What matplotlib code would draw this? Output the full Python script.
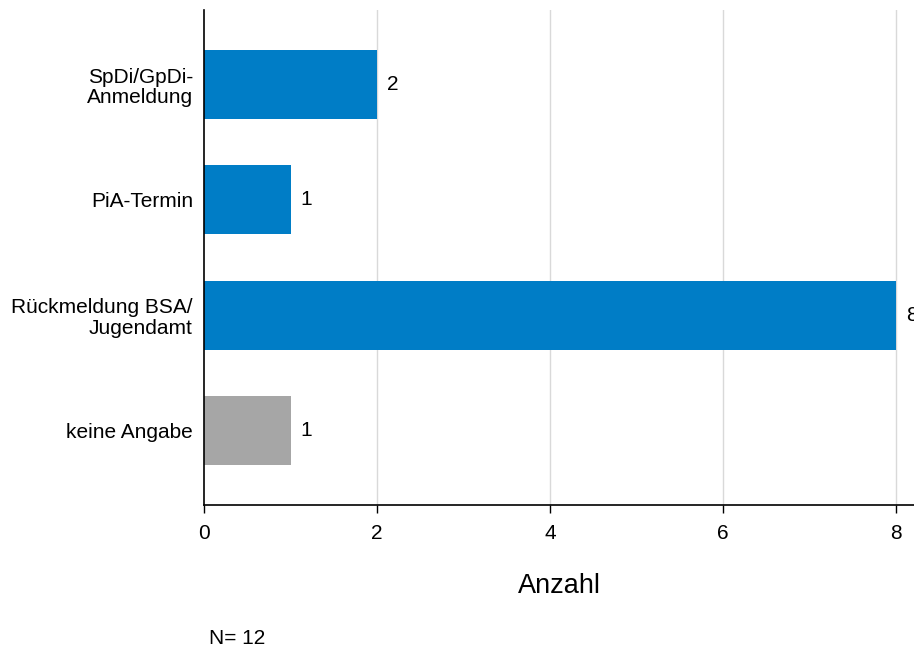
import matplotlib
matplotlib.use("Agg")
import matplotlib.pyplot as plt

plt.rcParams["font.family"] = ["Liberation Sans", "DejaVu Sans"]

categories = ["SpDi/GpDi-\nAnmeldung", "PiA-Termin", "Rückmeldung BSA/\nJugendamt", "keine Angabe"]
counts = [2, 1, 8, 1]
colors = ["#007DC6", "#007DC6", "#007DC6", "#A6A6A6"]
xticks = [0, 2, 4, 6, 8]
n_total = 12

fig = plt.figure(figsize=(9.14, 6.5), dpi=100)
ax = fig.add_axes([204 / 914, 1 - 505 / 650, 1 - 204 / 914, 495 / 650])

pos = list(range(len(categories)))
bars = ax.barh(pos, counts, height=0.6, color=colors, zorder=2)
for b, v in zip(bars, counts):
    ax.annotate(str(v), (b.get_width(), b.get_y() + b.get_height() / 2),
                xytext=(7, 0), textcoords="offset points",
                va="center", ha="left", fontsize=15, annotation_clip=False)

ax.set_ylim(3.652, -0.652)
ax.set_xlim(0, 710 / 86.5)
ax.set_yticks(pos)
ax.set_yticklabels(categories, fontsize=15, ha="right", multialignment="right",
                   linespacing=1.1)
ax.tick_params(axis="y", length=0, pad=8)
ax.set_xticks(xticks)
ax.tick_params(axis="x", labelsize=15, length=6, width=1, pad=8)

for t in xticks[1:]:
    ax.axvline(t, color="#D9D9D9", lw=1, zorder=1)

for s in ["top", "right"]:
    ax.spines[s].set_visible(False)
ax.spines["left"].set_linewidth(1.2)
ax.spines["bottom"].set_linewidth(1.2)

ax.set_xlabel("Anzahl", fontsize=19.5, labelpad=21)
fig.text(209 / 914, 1 - 638 / 650, f"N= {n_total}", fontsize=15, va="center", ha="left")

fig.savefig("out.png", dpi=100)
